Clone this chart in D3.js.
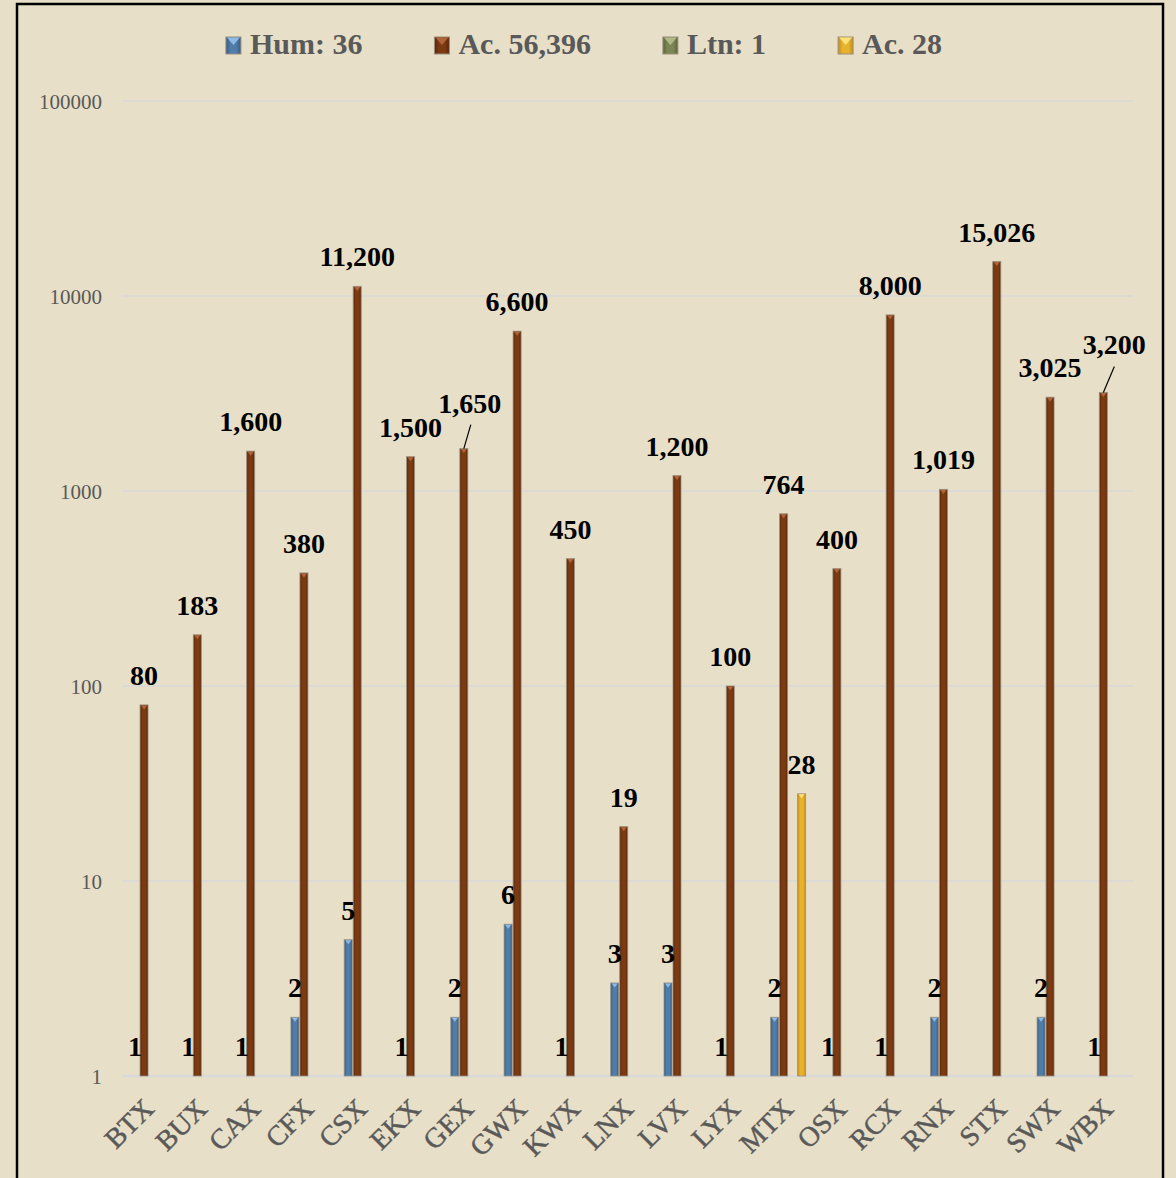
<!DOCTYPE html>
<html><head><meta charset="utf-8">
<script src="https://cdn.jsdelivr.net/npm/d3@7"></script>
<style>
html,body{margin:0;padding:0;background:#e7dfc7;}
svg{display:block;}
</style></head>
<body>
<svg id="chart" width="1176" height="1178"></svg>
<script>
const categories = ["BTX","BUX","CAX","CFX","CSX","EKX","GEX","GWX","KWX","LNX","LVX","LYX","MTX","OSX","RCX","RNX","STX","SWX","WBX"];
const humValues = [1,1,1,2,5,1,2,6,1,3,3,1,2,1,1,2,null,2,1];
const acValues = [80,183,1600,380,11200,1500,1650,6600,450,19,1200,100,764,400,8000,1019,15026,3025,3200];
const ltnValues = [null,null,null,null,null,null,null,null,null,null,null,null,null,null,null,null,1,null,null];
const ac2Values = [null,null,null,null,null,null,null,null,null,null,null,null,28,null,null,null,null,null,null];
const seriesNames = ["Hum: 36","Ac. 56,396","Ltn: 1","Ac. 28"];
const tickValues = [1,10,100,1000,10000,100000];
const tickLabels = ["1","10","100","1000","10000","100000"];

const seriesData = [humValues, acValues, ltnValues, ac2Values];
const showLabels = [true, true, false, true];
const palette = [
  {base:"#4f7ca8", dark:"#35597f", light:"#8dbbe6"},
  {base:"#7b3a12", dark:"#5a2607", light:"#b0643a"},
  {base:"#7c8654", dark:"#5b6339", light:"#b0b985"},
  {base:"#e8b22e", dark:"#c48d14", light:"#ffe27a"}
];
// manually moved labels (dx, dy) — leader lines drawn
const labelNudge = {"1|GEX":[6,-16], "1|WBX":[11,-18]};

const svg = d3.select("#chart");
const W = 1176, H = 1178;
const serif = "'Liberation Serif','DejaVu Serif',serif";

svg.append("rect").attr("width",W).attr("height",H).attr("fill","#e7dfc7");
svg.append("rect").attr("x",17).attr("y",4).attr("width",1146).attr("height",1200)
  .attr("fill","none").attr("stroke","#000").attr("stroke-width",2.5);

const defs = svg.append("defs");
palette.forEach((p,i)=>{
  const g = defs.append("linearGradient").attr("id","g"+i).attr("x1","0").attr("x2","1").attr("y1","0").attr("y2","0");
  g.append("stop").attr("offset","0").attr("stop-color",p.dark);
  g.append("stop").attr("offset","0.3").attr("stop-color",p.base);
  g.append("stop").attr("offset","0.7").attr("stop-color",p.base);
  g.append("stop").attr("offset","1").attr("stop-color",p.dark);
});

const left = 122.4, right = 1135;
const x0 = d3.scaleBand().domain(categories).range([left,right]).padding(0);
const groupW = 36;
const x1 = d3.scaleBand().domain(d3.range(4)).range([0,groupW]).padding(0);
const y = d3.scaleLog().domain([1,100000]).range([1076,101]);

// gridlines
const yAxis = d3.axisLeft(y).tickValues(tickValues).tickFormat((d,i)=>tickLabels[i]).tickSize(0).tickPadding(0);
const gAxis = svg.append("g").attr("transform",`translate(102,0)`).call(yAxis);
gAxis.select(".domain").remove();
gAxis.selectAll("text").attr("font-family",serif).attr("font-size",21).attr("fill","#595959").attr("dy","0.35em");
svg.append("g").selectAll("line").data(tickValues).join("line")
  .attr("x1",left).attr("x2",1133).attr("y1",d=>y(d)).attr("y2",d=>y(d))
  .attr("stroke","#d9d9d9").attr("stroke-width",d=>d===1?2.5:1.5);

// bars
const barW = x1.bandwidth()-1;
const gBars = svg.append("g");
seriesData.forEach((vals,si)=>{
  vals.forEach((v,ci)=>{
    if(v==null) return;
    const c = categories[ci];
    const bx = x0(c) + (x0.bandwidth()-groupW)/2 + x1(si);
    const top = y(v), base = y(1);
    const h = base-top;
    if(h>0.5){
      gBars.append("rect").attr("x",bx).attr("y",top).attr("width",barW).attr("height",h)
        .attr("fill",`url(#g${si})`).attr("stroke","#9a9080").attr("stroke-width",1).attr("stroke-opacity",0.8);
      gBars.append("path")
        .attr("d",`M${bx+1},${top+0.5} L${bx+barW-1},${top+0.5} L${bx+barW/2},${top+4.5} Z`)
        .attr("fill",palette[si].light);
    }
  });
});

// data labels
const gLab = svg.append("g");
seriesData.forEach((vals,si)=>{
  if(!showLabels[si]) return;
  vals.forEach((v,ci)=>{
    if(v==null) return;
    const c = categories[ci];
    const cx = x0(c) + (x0.bandwidth()-groupW)/2 + x1(si) + barW/2;
    const top = y(v);
    const nud = labelNudge[si+"|"+c];
    let lx = cx, ly = top-20;
    if(nud){
      lx += nud[0]; ly += nud[1];
      gLab.append("line").attr("x1",cx).attr("y1",top).attr("x2",lx+ (nud[0]>8?0:1)).attr("y2",ly+12)
        .attr("stroke","#000").attr("stroke-width",1.2);
    }
    gLab.append("text").attr("x",lx).attr("y",ly).attr("text-anchor","middle")
      .attr("font-family",serif).attr("font-weight","bold").attr("font-size",28).attr("fill","#000")
      .text(d3.format(",")(v));
  });
});

// x axis labels
const gX = svg.append("g");
categories.forEach(c=>{
  const cx = x0(c)+x0.bandwidth()/2;
  gX.append("text").attr("transform",`translate(${cx-7},${1097}) rotate(-45)`)
    .attr("text-anchor","end").attr("font-family",serif).attr("font-size",28).attr("fill","#595959")
    .attr("stroke","#595959").attr("stroke-width",0.5)
    .attr("dy","0.68em").text(c);
});

// legend
const gL = svg.append("g");
const items = [];
seriesNames.forEach((n,i)=>{
  const g = gL.append("g");
  g.append("rect").attr("x",0).attr("y",-17).attr("width",15).attr("height",17)
    .attr("fill",`url(#g${i})`).attr("stroke","#9a9080").attr("stroke-width",1);
  g.append("path").attr("d","M1,-16.5 L14,-16.5 L7.5,-9 Z").attr("fill",palette[i].light);
  const t = g.append("text").attr("x",24).attr("y",0).attr("font-family",serif).attr("font-weight","bold")
    .attr("font-size",30).attr("fill","#595959").text(n);
  const w = 24 + t.node().getComputedTextLength();
  items.push({g,w});
});
const gap = 72;
const total = d3.sum(items,d=>d.w) + gap*(items.length-1);
let xx = 584 - total/2;
items.forEach(it=>{ it.g.attr("transform",`translate(${xx},54)`); xx += it.w + gap; });
</script>
</body></html>
